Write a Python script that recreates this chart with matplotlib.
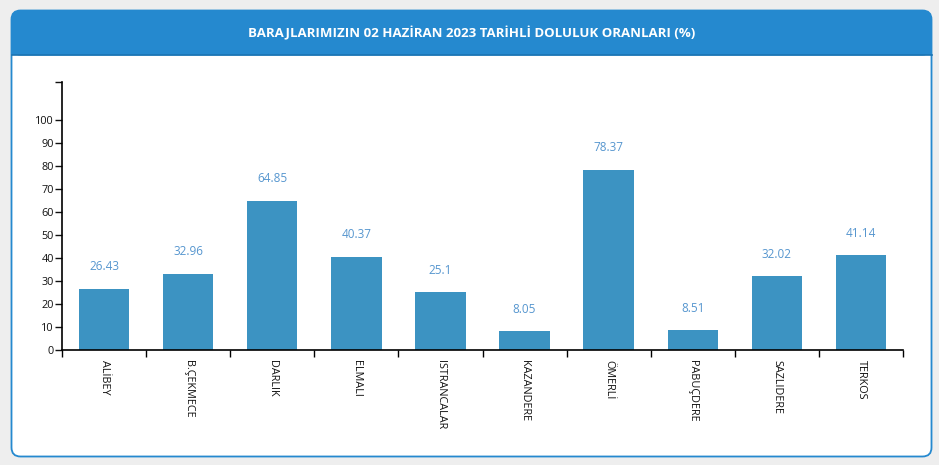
import matplotlib.pyplot as plt
from matplotlib.patches import FancyBboxPatch, Rectangle

barajlar = ["ALİBEY", "B.ÇEKMECE", "DARLIK", "ELMALI", "ISTRANCALAR",
            "KAZANDERE", "ÖMERLİ", "PABUÇDERE", "SAZLIDERE", "TERKOS"]
doluluk = [26.43, 32.96, 64.85, 40.37, 25.1, 8.05, 78.37, 8.51, 32.02, 41.14]
y_ticks = list(range(0, 101, 10))
baslik = "BARAJLARIMIZIN 02 HAZİRAN 2023 TARİHLİ DOLULUK ORANLARI (%)"

W, H = 939, 465
plt.rcParams["font.family"] = ["Open Sans", "DejaVu Sans"]

fig = plt.figure(figsize=(W / 100, H / 100), dpi=100)
fig.patch.set_facecolor("#eeeeee")

# card background in pixel coordinates
bg = fig.add_axes([0, 0, 1, 1])
bg.set_xlim(0, W)
bg.set_ylim(H, 0)
bg.axis("off")

card = FancyBboxPatch((11.5, 10.5), 920, 446, boxstyle="round,pad=0,rounding_size=9",
                      facecolor="white", edgecolor="#2589cf", linewidth=1.3)
bg.add_patch(card)
header = FancyBboxPatch((11.5, 10.5), 920, 45, boxstyle="round,pad=0,rounding_size=9",
                        facecolor="#2589cf", edgecolor="none")
bg.add_patch(header)
bg.add_patch(Rectangle((11.5, 30), 920, 25.5, facecolor="#2589cf", edgecolor="none"))
bg.plot([11.5, 931.5], [55.5, 55.5], color="#1b74b3", linewidth=1.2)
bg.text(472, 33, baslik, color="white", fontsize=9.5, fontweight="bold",
        ha="center", va="center")

# bar chart
x0, x1, y_top, y_base = 62, 903, 82, 350
ax = fig.add_axes([x0 / W, (H - y_base) / H, (x1 - x0) / W, (y_base - y_top) / H])
ax.set_facecolor("none")

pos = list(range(len(barajlar)))
ax.bar(pos, doluluk, width=0.6, color="#3c93c2")
for p, v in zip(pos, doluluk):
    ax.annotate(f"{v:g}", (p, v), xytext=(0, 16), textcoords="offset points",
                ha="center", va="center", fontsize=8.5, color="#5696cf")

ax.set_xlim(-0.5, len(barajlar) - 0.5)
ax.set_ylim(0, 116.5)
ax.set_yticks(y_ticks + [116.5])
ax.set_yticklabels([str(t) for t in y_ticks] + [""])
ax.tick_params(axis="y", length=5, width=1, labelsize=7.8, pad=1, colors="#111111")

ax.set_xticks(pos)
ax.set_xticklabels(barajlar, rotation=-90, fontsize=7.8, va="top", ha="center")
ax.tick_params(axis="x", length=0, pad=7, colors="#111111")
ax.set_xticks([p - 0.5 for p in range(len(barajlar) + 1)], minor=True)
ax.tick_params(axis="x", which="minor", length=5, width=1, color="black")

for side in ("top", "right"):
    ax.spines[side].set_visible(False)
for side in ("left", "bottom"):
    ax.spines[side].set_linewidth(1.2)
    ax.spines[side].set_color("black")

fig.savefig("out.png", dpi=100, facecolor=fig.get_facecolor())
